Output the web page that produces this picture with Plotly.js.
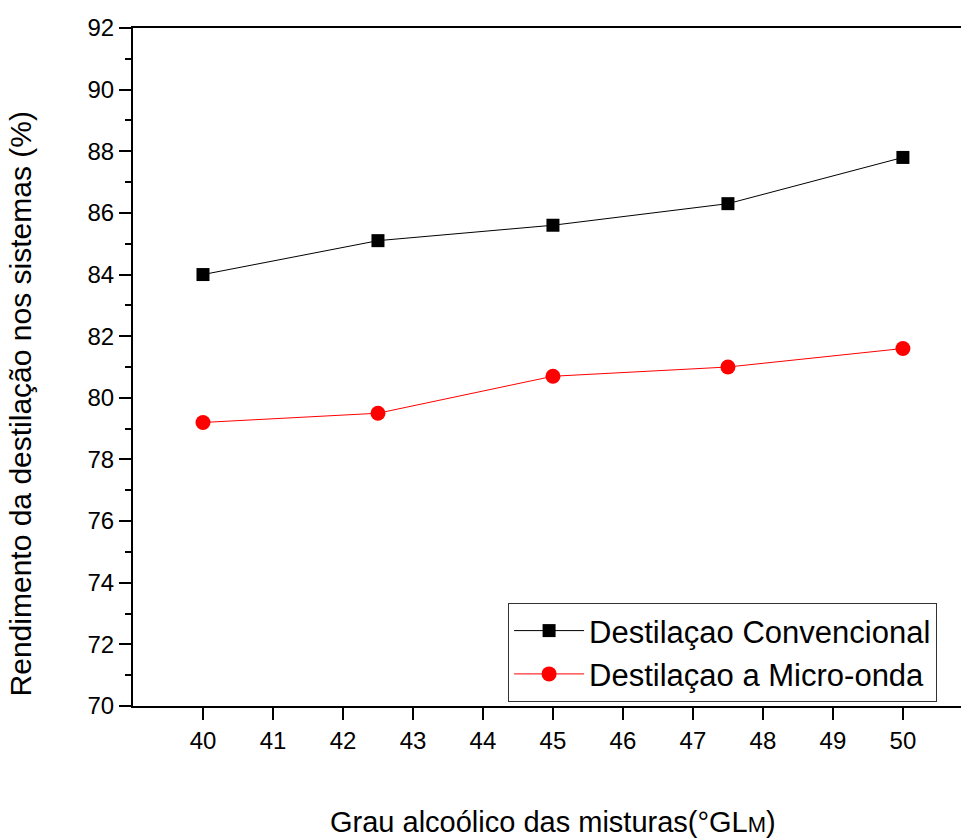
<!DOCTYPE html>
<html>
<head>
<meta charset="utf-8">
<script src="https://cdn.plot.ly/plotly-3.0.1.min.js"></script>
<style>body{margin:0;padding:0;background:#fff;}#chart{width:961px;height:839px;}</style>
</head>
<body>
<div id="chart"></div>
<script>
const grau = [40, 42.5, 45, 47.5, 50];
const convencional = [84.0, 85.1, 85.6, 86.3, 87.8];
const microonda = [79.2, 79.5, 80.7, 81.0, 81.6];
const xTicks = [40, 41, 42, 43, 44, 45, 46, 47, 48, 49, 50];
const yTicks = [70, 72, 74, 76, 78, 80, 82, 84, 86, 88, 90, 92];

const font = "Liberation Sans, Arial, sans-serif";

const traces = [
  {x: grau, y: convencional, name: "Destilaçao Convencional", mode: "lines+markers",
   line: {color: "#000000", width: 1}, marker: {symbol: "square", size: 13, color: "#000000"}},
  {x: grau, y: microonda, name: "Destilaçao a Micro-onda", mode: "lines+markers",
   line: {color: "#ff0000", width: 1}, marker: {symbol: "circle", size: 15, color: "#ff0000"}}
];

const layout = {
  width: 961, height: 839,
  margin: {l: 133, r: 0, t: 28, b: 133},
  paper_bgcolor: "#ffffff", plot_bgcolor: "#ffffff",
  font: {family: font, color: "#000000"},
  showlegend: true,
  legend: {x: 0.453, y: 0.152, xanchor: "left", yanchor: "top",
           bordercolor: "#333333", borderwidth: 1, bgcolor: "#ffffff",
           font: {size: 31, family: font}, tracegroupgap: 0, itemwidth: 70},
  xaxis: {
    range: [39, 50.83], tickmode: "array", tickvals: xTicks, ticktext: xTicks.map(String),
    showgrid: false, zeroline: false, showline: true, linecolor: "#000", linewidth: 2,
    mirror: true, ticks: "outside", ticklen: 12, tickwidth: 2, tickcolor: "#000",
    tickfont: {size: 24, family: font}
  },
  yaxis: {
    range: [70, 92], tickmode: "array", tickvals: yTicks,
    showgrid: false, zeroline: false, showline: true, linecolor: "#000", linewidth: 2,
    ticks: "outside", ticklen: 12, tickwidth: 2, tickcolor: "#000",
    minor: {tickmode: "linear", tick0: 71, dtick: 2, ticks: "outside", ticklen: 6, tickwidth: 2, tickcolor: "#000"},
    tickfont: {size: 24, family: font}
  },
  annotations: [{
    text: "Rendimento da destilação nos sistemas (%)", textangle: -90,
    xref: "paper", yref: "paper", x: -0.136, y: 0.4454, xanchor: "center", yanchor: "middle",
    showarrow: false, font: {size: 30, family: font, color: "#000"}
  }, {
    text: "Grau alcoólico das misturas(°GL<span style='font-size:22px'>M</span>)",
    xref: "paper", yref: "paper", x: 0.507, y: -0.1712, xanchor: "center", yanchor: "middle",
    showarrow: false, font: {size: 29, family: font, color: "#000"}
  }]
};

Plotly.newPlot("chart", traces, layout, {displayModeBar: false});
</script>
</body>
</html>
